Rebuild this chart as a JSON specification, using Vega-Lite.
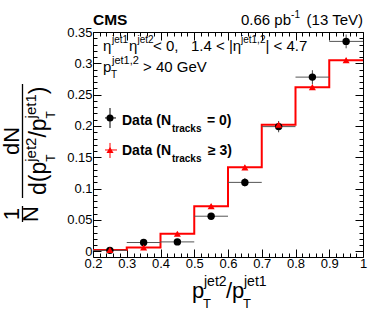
{
  "$schema": "https://vega.github.io/schema/vega-lite/v6.json",
  "width": 270,
  "height": 225,
  "autosize": {"type": "none"},
  "padding": {"left": 93, "top": 32, "right": 11, "bottom": 53},
  "background": "white",
  "config": {"view": {"stroke": null}, "font": "Liberation Sans"},
  "datasets": {
    "hist": [
      {"x": 0.2, "y": 0.002}, {"x": 0.3, "y": 0.006}, {"x": 0.4, "y": 0.028}, {"x": 0.5, "y": 0.072},
      {"x": 0.6, "y": 0.134}, {"x": 0.7, "y": 0.202}, {"x": 0.8, "y": 0.262}, {"x": 0.9, "y": 0.305},
      {"x": 1.0, "y": 0.305}
    ],
    "n0": [
      {"x": 0.25, "lo": 0.2, "hi": 0.3, "y": 0.0015, "ylo": 0.0005, "yhi": 0.0025},
      {"x": 0.35, "lo": 0.3, "hi": 0.4, "y": 0.014, "ylo": 0.011, "yhi": 0.017},
      {"x": 0.45, "lo": 0.4, "hi": 0.5, "y": 0.015, "ylo": 0.012, "yhi": 0.018},
      {"x": 0.55, "lo": 0.5, "hi": 0.6, "y": 0.056, "ylo": 0.052, "yhi": 0.06},
      {"x": 0.65, "lo": 0.6, "hi": 0.7, "y": 0.11, "ylo": 0.103, "yhi": 0.117},
      {"x": 0.75, "lo": 0.7, "hi": 0.8, "y": 0.199, "ylo": 0.19, "yhi": 0.208},
      {"x": 0.85, "lo": 0.8, "hi": 0.9, "y": 0.278, "ylo": 0.267, "yhi": 0.289},
      {"x": 0.95, "lo": 0.9, "hi": 1.0, "y": 0.335, "ylo": 0.324, "yhi": 0.346}
    ],
    "n3": [
      {"x": 0.25, "y": 0.002, "ylo": 0.001, "yhi": 0.003},
      {"x": 0.35, "y": 0.006, "ylo": 0.002, "yhi": 0.01},
      {"x": 0.45, "y": 0.028, "ylo": 0.025, "yhi": 0.031},
      {"x": 0.55, "y": 0.072, "ylo": 0.069, "yhi": 0.075},
      {"x": 0.65, "y": 0.134, "ylo": 0.131, "yhi": 0.137},
      {"x": 0.75, "y": 0.202, "ylo": 0.198, "yhi": 0.206},
      {"x": 0.85, "y": 0.262, "ylo": 0.258, "yhi": 0.266},
      {"x": 0.95, "y": 0.305, "ylo": 0.301, "yhi": 0.309}
    ],
    "legmark": [
      {"s": "n0", "x": 0.2504, "y": 0.2128, "lo": 0.2356, "hi": 0.2681, "ylo": 0.1968, "yhi": 0.2287},
      {"s": "n3", "x": 0.2504, "y": 0.1617, "lo": 0.2356, "hi": 0.2711, "ylo": 0.1489, "yhi": 0.1729}
    ],
    "hdrR": [{"t": "(13 TeV)", "x": 1.0, "y": 0.3612}, {"t": "0.66 pb", "x": 0.7867, "y": 0.3612}],
    "hdrSup": [{"t": "-1", "x": 0.8133, "y": 0.3723}],
    "cms": [{"t": "CMS", "x": 0.2, "y": 0.3612}],
    "main": [
      {"t": "η", "x": 0.2296, "y": 0.3197},
      {"t": "η", "x": 0.3067, "y": 0.3197},
      {"t": "\u00a0< 0,\u00a0\u00a0\u00a01.4 < |η", "x": 0.3778, "y": 0.3197},
      {"t": "| < 4.7", "x": 0.7111, "y": 0.3197},
      {"t": "p", "x": 0.2296, "y": 0.2862},
      {"t": "> 40 GeV", "x": 0.3481, "y": 0.2862}
    ],
    "sup": [
      {"t": "jet1", "x": 0.2563, "y": 0.3324},
      {"t": "jet2", "x": 0.3319, "y": 0.3324},
      {"t": "jet1,2", "x": 0.6385, "y": 0.3324}
    ],
    "sup2": [{"t": "jet1,2", "x": 0.2563, "y": 0.2989}],
    "sub": [{"t": "T", "x": 0.2533, "y": 0.2766}],
    "leg": [
      {"t": "Data (N", "x": 0.2859, "y": 0.2016},
      {"t": "= 0)", "x": 0.5378, "y": 0.2016},
      {"t": "Data (N", "x": 0.2859, "y": 0.1537},
      {"t": "≥ 3)", "x": 0.5407, "y": 0.1537}
    ],
    "legSub": [{"t": "tracks", "x": 0.4341, "y": 0.1904}, {"t": "tracks", "x": 0.4341, "y": 0.1425}],
    "xtBig": [{"t": "p", "x": 0.4933, "y": -0.0745}, {"t": "/p", "x": 0.5941, "y": -0.0745}],
    "xtSup": [{"t": "jet2", "x": 0.5289, "y": -0.0554}, {"t": "jet1", "x": 0.6474, "y": -0.0554}],
    "xtSub": [{"t": "T", "x": 0.5259, "y": -0.0905}, {"t": "T", "x": 0.6444, "y": -0.0905}],
    "ytBig": [{"t": "d(p", "x": 0.0622, "y": 0.0899}, {"t": "/p", "x": 0.0622, "y": 0.1815}, {"t": ")", "x": 0.0622, "y": 0.2507}],
    "ytCen": [{"t": "dN", "x": -0.0178, "y": 0.176}, {"t": "1", "x": -0.0178, "y": 0.0595}, {"t": "N", "x": 0.0385, "y": 0.0595}],
    "ytSup": [{"t": "jet2", "x": 0.0311, "y": 0.1429}, {"t": "jet1", "x": 0.0311, "y": 0.2121}],
    "ytSub": [{"t": "T", "x": 0.0874, "y": 0.1429}, {"t": "T", "x": 0.0874, "y": 0.2121}],
    "bars": [{"x": -0.00889, "y": 0.0851, "y2": 0.267}, {"x": -0.00889, "y": 0.0468, "y2": 0.0723}]
  },
  "encoding": {
    "x": {"field": "x", "type": "quantitative", "scale": {"domain": [0.2, 1], "nice": false, "zero": false}, "axis": null},
    "y": {"field": "y", "type": "quantitative", "scale": {"domain": [-0.0091, 0.35], "nice": false, "zero": false}, "axis": null}
  },
  "resolve": {"axis": {"x": "independent", "y": "independent"}},
  "layer": [
    {
      "data": {"name": "hist"},
      "mark": {"type": "line", "interpolate": "step-after", "color": "#ff0000", "strokeWidth": 2},
      "encoding": {
        "x": {"field": "x", "type": "quantitative", "scale": {"domain": [0.2, 1], "nice": false, "zero": false},
          "axis": {"orient": "bottom", "values": [0.2,0.22,0.24,0.26,0.28,0.3,0.32,0.34,0.36,0.38,0.4,0.42,0.44,0.46,0.48,0.5,0.52,0.54,0.56,0.58,0.6,0.62,0.64,0.66,0.68,0.7,0.72,0.74,0.76,0.78,0.8,0.82,0.84,0.86,0.88,0.9,0.92,0.94,0.96,0.98,1.0],
            "labelExpr": "abs(datum.value*10-round(datum.value*10))<0.001 ? format(datum.value,'~g') : ''",
            "tickSize": {"condition": {"test": "abs(datum.value*10-round(datum.value*10))<0.001", "value": -8}, "value": -4},
            "title": null, "grid": false, "labelFlush": false, "labelOverlap": false, "labelPadding": 8, "labelFontSize": 13, "labelFont": "Liberation Sans", "labelColor": "black", "domainColor": "black", "tickColor": "black"}},
        "y": {"field": "y", "type": "quantitative", "scale": {"domain": [-0.0091, 0.35], "nice": false, "zero": false},
          "axis": {"orient": "left", "values": [0,0.01,0.02,0.03,0.04,0.05,0.06,0.07,0.08,0.09,0.1,0.11,0.12,0.13,0.14,0.15,0.16,0.17,0.18,0.19,0.2,0.21,0.22,0.23,0.24,0.25,0.26,0.27,0.28,0.29,0.3,0.31,0.32,0.33,0.34,0.35],
            "labelExpr": "abs(datum.value*20-round(datum.value*20))<0.001 ? format(datum.value,'~g') : ''",
            "tickSize": {"condition": {"test": "abs(datum.value*20-round(datum.value*20))<0.001", "value": -8}, "value": -4},
            "title": null, "grid": false, "labelFlush": false, "labelOverlap": false, "labelPadding": 9, "labelFontSize": 13, "labelFont": "Liberation Sans", "labelColor": "black", "domainColor": "black", "tickColor": "black"}}
      }
    },
    {
      "data": {"name": "n0"},
      "mark": {"type": "rule", "color": "#555555", "strokeWidth": 1},
      "encoding": {
        "x": {"field": "lo", "type": "quantitative", "scale": {"domain": [0.2, 1], "nice": false, "zero": false},
          "axis": {"orient": "top", "values": [0.2,0.22,0.24,0.26,0.28,0.3,0.32,0.34,0.36,0.38,0.4,0.42,0.44,0.46,0.48,0.5,0.52,0.54,0.56,0.58,0.6,0.62,0.64,0.66,0.68,0.7,0.72,0.74,0.76,0.78,0.8,0.82,0.84,0.86,0.88,0.9,0.92,0.94,0.96,0.98,1.0],
            "labels": false,
            "tickSize": {"condition": {"test": "abs(datum.value*10-round(datum.value*10))<0.001", "value": -8}, "value": -4},
            "title": null, "grid": false, "domainColor": "black", "tickColor": "black"}},
        "x2": {"field": "hi"},
        "y": {"field": "y", "type": "quantitative", "scale": {"domain": [-0.0091, 0.35], "nice": false, "zero": false},
          "axis": {"orient": "right", "values": [0,0.01,0.02,0.03,0.04,0.05,0.06,0.07,0.08,0.09,0.1,0.11,0.12,0.13,0.14,0.15,0.16,0.17,0.18,0.19,0.2,0.21,0.22,0.23,0.24,0.25,0.26,0.27,0.28,0.29,0.3,0.31,0.32,0.33,0.34,0.35],
            "labels": false,
            "tickSize": {"condition": {"test": "abs(datum.value*20-round(datum.value*20))<0.001", "value": -8}, "value": -4},
            "title": null, "grid": false, "domainColor": "black", "tickColor": "black"}}
      }
    },
    {
      "data": {"name": "n0"},
      "mark": {"type": "rule", "color": "#444444", "strokeWidth": 1},
      "encoding": {
        "y": {"field": "ylo", "type": "quantitative", "scale": {"domain": [-0.0091, 0.35], "nice": false, "zero": false}, "axis": null},
        "y2": {"field": "yhi"}
      }
    },
    {
      "data": {"name": "n0"},
      "mark": {"type": "point", "shape": "circle", "filled": true, "color": "black", "size": 55, "opacity": 1}
    },
    {
      "data": {"name": "n3"},
      "mark": {"type": "rule", "color": "#ff0000", "strokeWidth": 1},
      "encoding": {
        "y": {"field": "ylo", "type": "quantitative", "scale": {"domain": [-0.0091, 0.35], "nice": false, "zero": false}, "axis": null},
        "y2": {"field": "yhi"}
      }
    },
    {
      "data": {"name": "n3"},
      "mark": {"type": "point", "shape": "triangle-up", "filled": true, "color": "#ff0000", "size": 50, "opacity": 1}
    },
    {
      "data": {"name": "legmark"},
      "mark": {"type": "rule", "strokeWidth": 1},
      "encoding": {
        "x": {"field": "lo", "type": "quantitative", "scale": {"domain": [0.2, 1], "nice": false, "zero": false}, "axis": null},
        "x2": {"field": "hi"},
        "color": {"field": "s", "type": "nominal", "scale": {"domain": ["n0", "n3"], "range": ["black", "#ff0000"]}, "legend": null}
      }
    },
    {
      "data": {"name": "legmark"},
      "mark": {"type": "rule", "strokeWidth": 1},
      "encoding": {
        "y": {"field": "ylo", "type": "quantitative", "scale": {"domain": [-0.0091, 0.35], "nice": false, "zero": false}, "axis": null},
        "y2": {"field": "yhi"},
        "color": {"field": "s", "type": "nominal", "scale": {"domain": ["n0", "n3"], "range": ["black", "#ff0000"]}, "legend": null}
      }
    },
    {
      "data": {"name": "legmark"},
      "mark": {"type": "point", "filled": true, "size": 50, "opacity": 1},
      "encoding": {
        "color": {"field": "s", "type": "nominal", "scale": {"domain": ["n0", "n3"], "range": ["black", "#ff0000"]}, "legend": null},
        "shape": {"field": "s", "type": "nominal", "scale": {"domain": ["n0", "n3"], "range": ["circle", "triangle-up"]}, "legend": null}
      }
    },
    {"data": {"name": "hdrR"}, "mark": {"type": "text", "align": "right", "baseline": "alphabetic", "fontSize": 15, "color": "black"}, "encoding": {"text": {"field": "t"}}},
    {"data": {"name": "hdrSup"}, "mark": {"type": "text", "align": "right", "baseline": "alphabetic", "fontSize": 10, "color": "black"}, "encoding": {"text": {"field": "t"}}},
    {"data": {"name": "cms"}, "mark": {"type": "text", "align": "left", "baseline": "alphabetic", "fontSize": 15.5, "fontWeight": "bold", "color": "black"}, "encoding": {"text": {"field": "t"}}},
    {"data": {"name": "main"}, "mark": {"type": "text", "align": "left", "baseline": "alphabetic", "fontSize": 15, "color": "black"}, "encoding": {"text": {"field": "t"}}},
    {"data": {"name": "sup"}, "mark": {"type": "text", "align": "left", "baseline": "alphabetic", "fontSize": 10, "color": "black"}, "encoding": {"text": {"field": "t"}}},
    {"data": {"name": "sup2"}, "mark": {"type": "text", "align": "left", "baseline": "alphabetic", "fontSize": 11, "color": "black"}, "encoding": {"text": {"field": "t"}}},
    {"data": {"name": "sub"}, "mark": {"type": "text", "align": "left", "baseline": "alphabetic", "fontSize": 10, "color": "black"}, "encoding": {"text": {"field": "t"}}},
    {"data": {"name": "leg"}, "mark": {"type": "text", "align": "left", "baseline": "alphabetic", "fontSize": 14, "fontWeight": "bold", "color": "black"}, "encoding": {"text": {"field": "t"}}},
    {"data": {"name": "legSub"}, "mark": {"type": "text", "align": "left", "baseline": "alphabetic", "fontSize": 10, "fontWeight": "bold", "color": "black"}, "encoding": {"text": {"field": "t"}}},
    {"data": {"name": "xtBig"}, "mark": {"type": "text", "align": "left", "baseline": "alphabetic", "fontSize": 22, "color": "black"}, "encoding": {"text": {"field": "t"}}},
    {"data": {"name": "xtSup"}, "mark": {"type": "text", "align": "left", "baseline": "alphabetic", "fontSize": 14, "color": "black"}, "encoding": {"text": {"field": "t"}}},
    {"data": {"name": "xtSub"}, "mark": {"type": "text", "align": "left", "baseline": "alphabetic", "fontSize": 13, "color": "black"}, "encoding": {"text": {"field": "t"}}},
    {"data": {"name": "ytBig"}, "mark": {"type": "text", "align": "left", "baseline": "alphabetic", "angle": 270, "fontSize": 23, "color": "black"}, "encoding": {"text": {"field": "t"}}},
    {"data": {"name": "ytCen"}, "mark": {"type": "text", "align": "center", "baseline": "alphabetic", "angle": 270, "fontSize": 22, "color": "black"}, "encoding": {"text": {"field": "t"}}},
    {"data": {"name": "ytSup"}, "mark": {"type": "text", "align": "left", "baseline": "alphabetic", "angle": 270, "fontSize": 15, "color": "black"}, "encoding": {"text": {"field": "t"}}},
    {"data": {"name": "ytSub"}, "mark": {"type": "text", "align": "left", "baseline": "alphabetic", "angle": 270, "fontSize": 12, "color": "black"}, "encoding": {"text": {"field": "t"}}},
    {
      "data": {"name": "bars"},
      "mark": {"type": "rule", "color": "black", "strokeWidth": 1.3},
      "encoding": {"y2": {"field": "y2"}}
    }
  ]
}
